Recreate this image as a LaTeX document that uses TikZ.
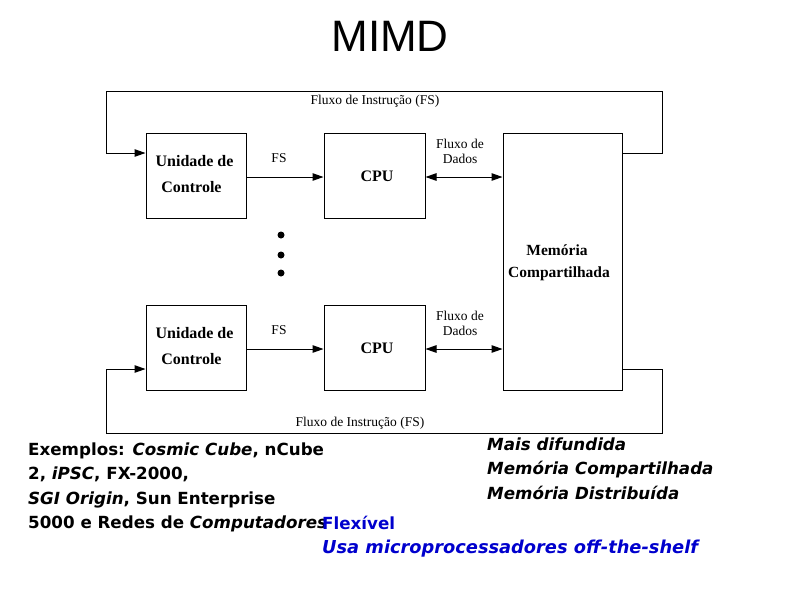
\documentclass[tikz,border=0pt]{standalone}
\usepackage{fontspec}
\setmainfont{Liberation Serif}
\newfontfamily\titlefont{Liberation Sans}
\newfontfamily\comicfont{DejaVu Sans}
\usetikzlibrary{arrows.meta}
\definecolor{txtblue}{RGB}{0,0,205}
\tikzset{
  x=1pt, y=-1pt,
  box/.style={draw, line width=1pt, minimum width=100pt, minimum height=85pt, inner sep=0pt},
  boxlabel/.style={font=\fontsize{16}{18}\selectfont\bfseries, inner sep=0pt, anchor=base},
  small/.style={font=\fontsize{13.5}{15}\selectfont, align=center, inner sep=0pt},
  conn/.style={line width=1pt},
  tip/.style={},
  arr/.style={conn, -{Triangle[length=11pt,width=7.5pt]}},
  darr/.style={conn, {Triangle[length=11pt,width=7.5pt]}-{Triangle[length=11pt,width=7.5pt]}},
  comic/.style={font=\comicfont\fontsize{16.7}{24}\selectfont\bfseries, anchor=base west, inner sep=0pt},
  dot/.style={circle, fill, inner sep=0pt, minimum size=7pt},
}
\begin{document}
\begin{tikzpicture}
\useasboundingbox (0,0) rectangle (794,595);
\node[font=\titlefont\fontsize{44}{46}\selectfont] (title) at (390,36) {MIMD};

% boxes
\node[box] (u1) at (196,175.5) {};
\node[boxlabel] (u1a) at (194.5,166) {Unidade de};
\node[boxlabel] (u1b) at (191.5,192) {Controle};
\node[box, minimum width=101pt] (c1) at (374.5,175.5) {};
\node[boxlabel] (c1t) at (377,181) {CPU};
\node[box] (u2) at (196,347.5) {};
\node[boxlabel] (u2a) at (194.5,338) {Unidade de};
\node[boxlabel] (u2b) at (191.5,364) {Controle};
\node[box, minimum width=101pt] (c2) at (374.5,347.5) {};
\node[boxlabel] (c2t) at (377,353) {CPU};
\node[box, minimum width=119pt, minimum height=257pt] (mem) at (562.5,261.5) {};
\node[boxlabel, font=\fontsize{15.5}{18}\selectfont\bfseries] (mema) at (557,255) {Memória};
\node[boxlabel, font=\fontsize{15.5}{18}\selectfont\bfseries] (memb) at (559,277) {Compartilhada};

% dots
\node[dot] (d1) at (281,235) {};
\node[dot] (d2) at (281,255) {};
\node[dot] (d3) at (281,273) {};

% FS arrows
\draw[arr] (u1.east |- 0,177) -- (c1.west |- 0,177);
\node[small] (fs1) at (279,158) {FS};
\draw[arr] (u2.east |- 0,349) -- (c2.west |- 0,349);
\node[small] (fs2) at (279,330) {FS};
% data arrows
\draw[darr] (c1.east |- 0,177) -- (mem.west |- 0,177);
\node[small] (fd1) at (460,151.5) {Fluxo de\\Dados};
\draw[darr] (c2.east |- 0,349) -- (mem.west |- 0,349);
\node[small] (fd2) at (460,323.5) {Fluxo de\\Dados};

% instruction loops
\coordinate (tl) at (106,91);
\coordinate (tr) at (662,91);
\coordinate (bl) at (106,433);
\coordinate (br) at (662,433);
\draw[arr] (mem.east |- 0,153) -| (tr) -- (tl) |- (u1.west |- 0,153);
\draw[arr] (mem.east |- 0,369) -| (br) -- (bl) |- (u2.west |- 0,369);
\node[small] (fi1) at (375,101) {Fluxo de Instrução (FS)};
\node[small] (fi2) at (360,423) {Fluxo de Instrução (FS)};

% texts
\node[comic] (ex1) at (28,455) {Exemplos: \textit{Cosmic Cube}, nCube};
\node[comic] (ex2) at (28,479.5) {2, \textit{iPSC}, FX-2000,};
\node[comic] (ex3) at (28,504) {\textit{SGI Origin}, Sun Enterprise};
\node[comic] (ex4) at (28,528) {5000 e Redes de \textit{Computadores}};
\node[comic] (md1) at (487,450) {\textit{Mais difundida}};
\node[comic] (md2) at (487,474.5) {\textit{Memória Compartilhada}};
\node[comic] (md3) at (487,499) {\textit{Memória Distribuída}};
\node[comic, text=txtblue] (fl1) at (322,529) {Flexível};
\node[comic, text=txtblue, font=\comicfont\fontsize{17.8}{24}\selectfont\bfseries] (fl2) at (322,553) {\textit{Usa microprocessadores off-the-shelf}};
\end{tikzpicture}
\end{document}
